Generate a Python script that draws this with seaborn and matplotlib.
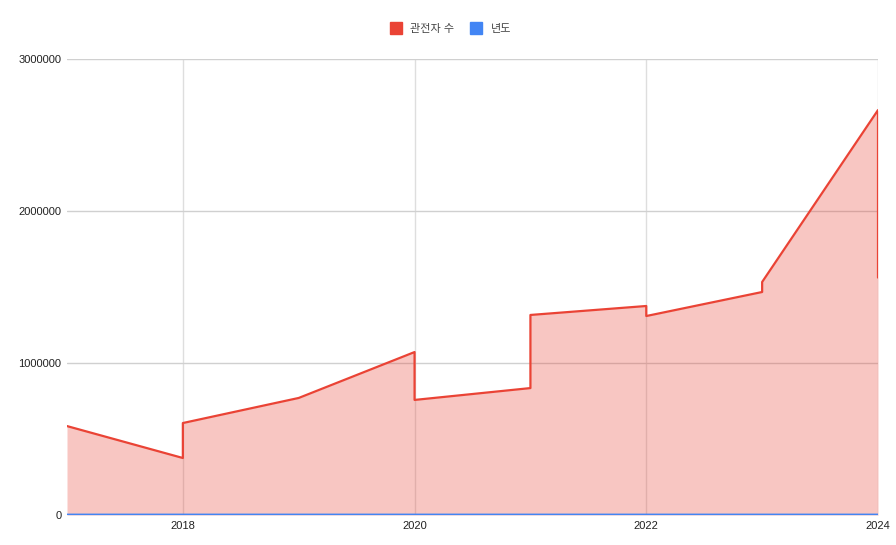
import numpy as np
import pandas as pd
import seaborn as sns
import matplotlib.pyplot as plt
from matplotlib.lines import Line2D

# data (two entries for some years)
years = [2017, 2018, 2018, 2019, 2020, 2020, 2021, 2021, 2022, 2022, 2023, 2023, 2024, 2024]
spectators = [585000, 375000, 605000, 770000, 1072000, 757000, 835000, 1316000,
              1375000, 1309000, 1467000, 1533000, 2664000, 1562000]
series_names = ["관전자 수", "년도"]
colors = ["#EA4335", "#4285F4"]

df = pd.DataFrame({"x": years, "관전자 수": spectators, "년도": years})

sns.set_style("white")
plt.rcParams["font.family"] = ["Liberation Sans", "Noto Sans CJK KR", "DejaVu Sans"]

fig = plt.figure(figsize=(8.96, 5.45), dpi=100)
ax = fig.add_axes([67 / 896, 1 - 515 / 545, (878 - 67) / 896, (515 - 59) / 545])

for name, c in zip(series_names, colors):
    ax.fill_between(df["x"], df[name], 0, color=c, alpha=0.3, linewidth=0, zorder=1)
    sns.lineplot(data=df, x="x", y=name, estimator=None, sort=False, color=c,
                 linewidth=1.6, ax=ax, zorder=3)

ax.set_xlim(2017, 2024)
ax.set_ylim(0, 3000000)
ax.set_yticks([0, 1000000, 2000000, 3000000])
ax.set_yticklabels(["0", "1000000", "2000000", "3000000"])
ax.set_xticks([2018, 2020, 2022, 2024])
ax.set_xticklabels(["2018", "2020", "2022", "2024"])
ax.grid(True, axis="y", color="#d0d0d0", linewidth=1, zorder=0)
ax.grid(True, axis="x", color="#dedede", linewidth=1, zorder=0)
ax.set_axisbelow(True)
ax.set_xlabel("")
ax.set_ylabel("")
for s in ax.spines.values():
    s.set_visible(False)
ax.tick_params(axis="both", length=0, labelsize=8, colors="#222222", pad=4)

handles = [Line2D([0], [0], marker="s", linestyle="", markersize=8,
                  markerfacecolor=c, markeredgecolor=c) for c in colors]
fig.legend(handles, series_names, loc="upper center", bbox_to_anchor=(0.500, 0.975),
           ncol=2, frameon=False, fontsize=8, labelcolor="#444444",
           handletextpad=0.3, columnspacing=1.0)

fig.savefig("out.png", dpi=100)
